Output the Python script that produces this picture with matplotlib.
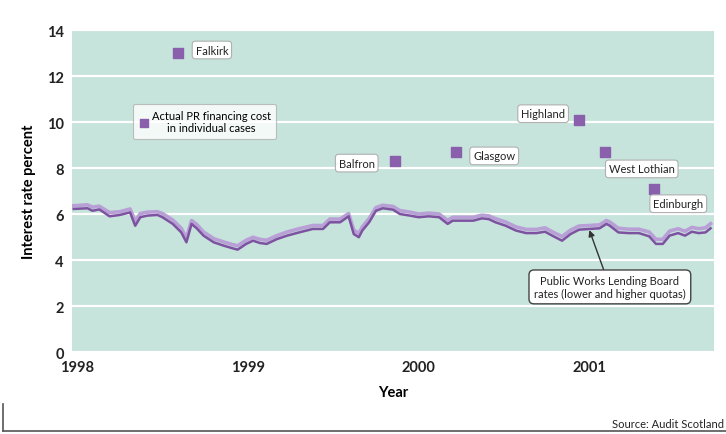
import matplotlib
matplotlib.use('Agg')
import matplotlib.pyplot as plt
from matplotlib.lines import Line2D

plt.rcParams['font.family'] = ['Lato', 'DejaVu Sans']

bgcolor = '#c6e4dc'
darkline = '#7d52a0'
lightline = '#b8a0d6'
pointcolor = '#8a5fab'

# PWLB rates, lower and higher quotas
years = [1997.98, 1998.06, 1998.09, 1998.13, 1998.19, 1998.25, 1998.31, 1998.34,
         1998.37, 1998.41, 1998.47, 1998.50, 1998.56, 1998.61, 1998.64, 1998.67,
         1998.70, 1998.74, 1998.80, 1998.86, 1998.91, 1998.94, 1998.99, 1999.03,
         1999.07, 1999.11, 1999.17, 1999.23, 1999.30, 1999.38, 1999.44, 1999.48,
         1999.54, 1999.59, 1999.62, 1999.65, 1999.67, 1999.71, 1999.75, 1999.79,
         1999.85, 1999.89, 1999.95, 2000.00, 2000.06, 2000.12, 2000.17, 2000.20,
         2000.26, 2000.32, 2000.37, 2000.41, 2000.45, 2000.51, 2000.57, 2000.63,
         2000.69, 2000.74, 2000.79, 2000.84, 2000.89, 2000.94, 2001.00, 2001.06,
         2001.10, 2001.12, 2001.17, 2001.23, 2001.29, 2001.35, 2001.39, 2001.43,
         2001.47, 2001.52, 2001.56, 2001.60, 2001.64, 2001.68, 2001.71]
lower_quota = [6.22, 6.25, 6.14, 6.20, 5.90, 5.96, 6.07, 5.49,
               5.86, 5.93, 5.96, 5.86, 5.57, 5.20, 4.77, 5.57,
               5.38, 5.06, 4.77, 4.62, 4.51, 4.45, 4.70, 4.84,
               4.74, 4.70, 4.91, 5.06, 5.20, 5.35, 5.35, 5.64,
               5.64, 5.90, 5.13, 4.99, 5.28, 5.64, 6.14, 6.25,
               6.19, 6.00, 5.93, 5.86, 5.90, 5.86, 5.57, 5.71,
               5.71, 5.71, 5.81, 5.78, 5.64, 5.49, 5.28, 5.17,
               5.17, 5.23, 5.03, 4.84, 5.13, 5.32, 5.35, 5.38,
               5.57, 5.49, 5.20, 5.17, 5.17, 5.03, 4.70, 4.70,
               5.06, 5.17, 5.06, 5.23, 5.17, 5.20, 5.38]
higher_quota = [6.36, 6.40, 6.30, 6.34, 6.06, 6.10, 6.22, 5.70,
                6.02, 6.08, 6.10, 6.02, 5.74, 5.38, 4.95, 5.72,
                5.55, 5.22, 4.93, 4.78, 4.67, 4.62, 4.86, 4.99,
                4.90, 4.86, 5.06, 5.22, 5.36, 5.50, 5.50, 5.78,
                5.78, 6.02, 5.30, 5.16, 5.44, 5.80, 6.28, 6.38,
                6.33, 6.15, 6.08, 6.00, 6.04, 6.00, 5.72, 5.86,
                5.86, 5.86, 5.95, 5.92, 5.80, 5.65, 5.44, 5.33,
                5.33, 5.40, 5.20, 5.02, 5.30, 5.48, 5.50, 5.53,
                5.72, 5.65, 5.38, 5.34, 5.34, 5.22, 4.90, 4.90,
                5.26, 5.36, 5.25, 5.42, 5.36, 5.40, 5.58]

# actual PFI financing cost in individual cases
projects = ['Falkirk', 'Balfron', 'Glasgow', 'Highland', 'West Lothian', 'Edinburgh']
project_year = [1998.59, 1999.86, 2000.22, 2000.94, 2001.09, 2001.38]
project_rate = [13.0, 8.3, 8.7, 10.1, 8.7, 7.1]
# label offsets in pixels from each point
label_offsets = [(34, 3), (-38, -2), (38, -4), (-36, 6), (37, -17), (24, -15)]

fig = plt.figure(figsize=(7.26, 4.35), dpi=100)
ax = fig.add_axes([0.0992, 0.1885, 0.8843, 0.7402])
ax.set_facecolor(bgcolor)

ax.set_xlim(1997.97, 2001.73)
ax.set_ylim(0, 14)
ax.set_yticks(range(0, 15, 2))
ax.set_xticks([1998, 1999, 2000, 2001])
ax.set_xticklabels(['1998', '1999', '2000', '2001'])
ax.yaxis.grid(True, color='white', linewidth=1.6)
ax.set_axisbelow(True)
for s in ax.spines.values():
    s.set_visible(False)
ax.tick_params(length=0, labelsize=10.5)
ax.tick_params(axis='x', pad=6)
ax.tick_params(axis='y', pad=6)
for lab in ax.get_xticklabels() + ax.get_yticklabels():
    lab.set_fontweight('bold')
    lab.set_color('#222222')

ax.plot(years, higher_quota, color=lightline, linewidth=2.6, zorder=3)
ax.plot(years, lower_quota, color=darkline, linewidth=1.8, zorder=4)

pts = ax.scatter(project_year, project_rate, marker='s', s=45, color=pointcolor,
                 zorder=5, label='Actual PR financing cost\nin individual cases')

box = dict(boxstyle='round,pad=0.3', facecolor='white', edgecolor='#b0b0b0', linewidth=0.8)
for name, x, y, off in zip(projects, project_year, project_rate, label_offsets):
    ax.annotate(name, xy=(x, y), xytext=off, textcoords='offset pixels',
                ha='center', va='center', fontsize=8, color='#222222', bbox=box, zorder=6)

leg = ax.legend(handles=[pts], loc='upper left', bbox_to_anchor=(0.095, 0.77),
                borderaxespad=0, fontsize=8, frameon=True, fancybox=True,
                handletextpad=0.2, handlelength=1.0, markerscale=0.9,
                borderpad=0.5)
leg.get_frame().set_edgecolor('#b0b0b0')
leg.get_frame().set_linewidth(0.8)
for t in leg.get_texts():
    t.set_multialignment('center')

ax.annotate('Public Works Lending Board\nrates (lower and higher quotas)',
            xy=(2001.0, 5.3), xytext=(2001.12, 2.83), textcoords='data',
            ha='center', va='center', fontsize=8, color='#222222', zorder=6,
            bbox=dict(boxstyle='round,pad=0.45', facecolor='white',
                      edgecolor='#444444', linewidth=1.0),
            arrowprops=dict(arrowstyle='-|>', color='#333333', linewidth=1.0,
                            mutation_scale=9, shrinkA=0, shrinkB=0))

ax.set_ylabel('Interest rate percent', fontsize=10.5, fontweight='bold', labelpad=8)
ax.set_xlabel('Year', fontsize=10.5, fontweight='bold', labelpad=8)

fig.text(0.997, 0.025, 'Source: Audit Scotland', ha='right', va='center', fontsize=8,
         color='#222222')
fig.add_artist(Line2D([0.004, 1.0], [0.007, 0.007], color='#555555', linewidth=1.2))
fig.add_artist(Line2D([0.004, 0.004], [0.007, 0.07], color='#555555', linewidth=1.2))

fig.savefig('out.png', dpi=100)
